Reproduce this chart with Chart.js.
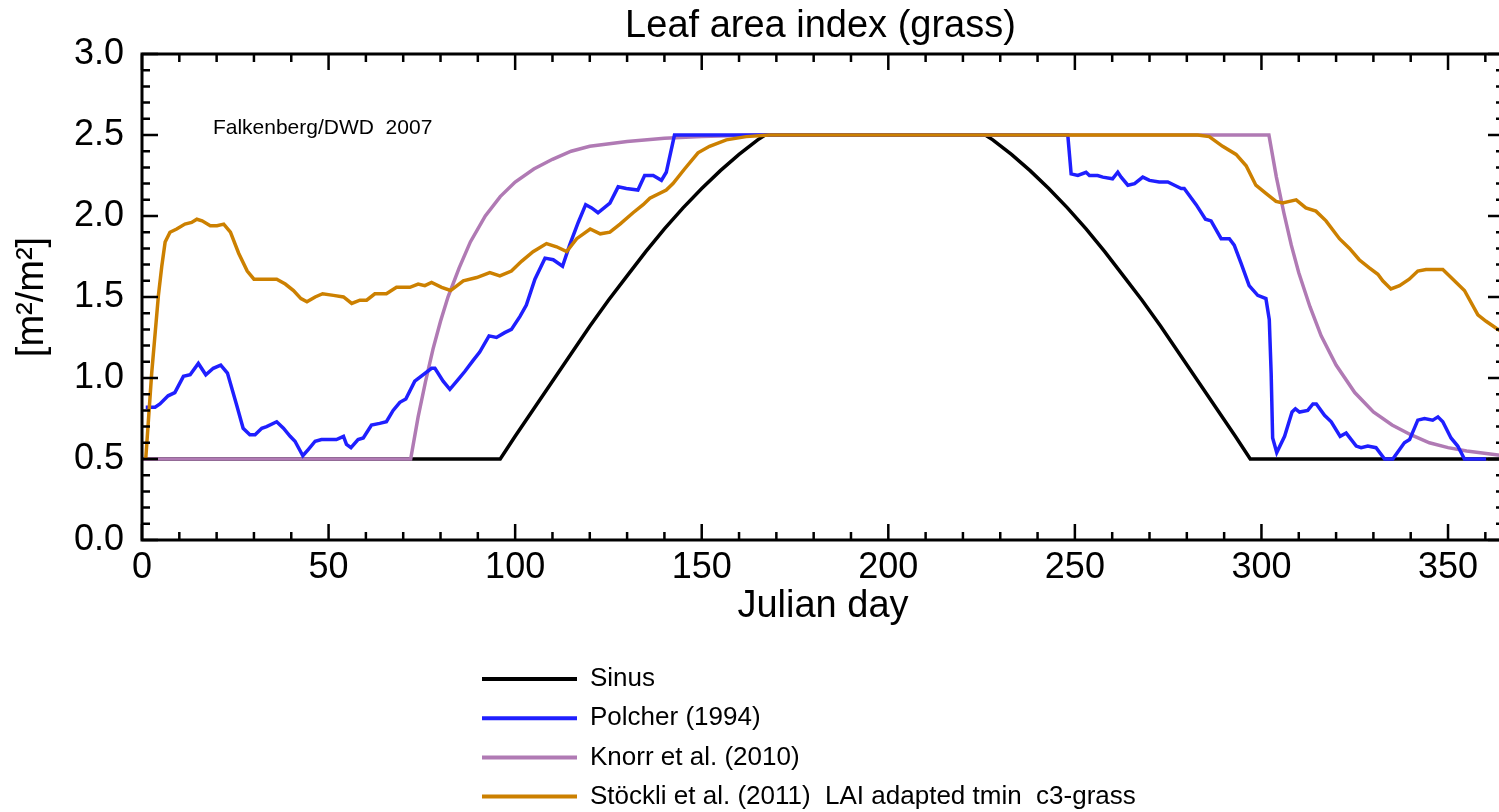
<!DOCTYPE html>
<html>
<head>
<meta charset="utf-8">
<title>Leaf area index (grass)</title>
<script src="https://cdn.jsdelivr.net/npm/chart.js@4.4.1/dist/chart.umd.min.js"></script>
<style>
  html, body { margin: 0; padding: 0; background: #fff; overflow: hidden; }
  #wrap { width: 1499px; height: 812px; overflow: hidden; }
</style>
</head>
<body>
<div id="wrap"><canvas id="lai-chart" width="1504" height="812"></canvas></div>
<script>
// Sinus
const sinusDays = [0, 96, 100, 105, 110, 115, 120, 125, 130, 135, 140, 145, 150, 155, 160, 165, 167,
  226, 228, 233, 238, 243, 248, 253, 258, 263, 268, 273, 278, 283, 288, 293, 297, 365];
const sinusLai = [0.5, 0.5, 0.64, 0.81, 0.98, 1.15, 1.32, 1.48, 1.63, 1.78, 1.92, 2.05, 2.17, 2.28, 2.38, 2.47, 2.5,
  2.5, 2.47, 2.38, 2.28, 2.17, 2.05, 1.92, 1.78, 1.63, 1.48, 1.32, 1.15, 0.98, 0.81, 0.64, 0.5, 0.5];

// Polcher (1994)
const polcherDays = [1, 3.5, 4.8, 7, 8.8, 11.1, 12.9, 15.1, 17.1, 19.1, 21.1, 22.9, 25.4, 27.1, 28.9, 30.3, 32.1, 33.4,
  36.1, 37.9, 39.7, 41, 43.1, 44.6, 46.4, 48.1, 50.4, 52.1, 54, 54.8, 56, 57.9, 59.3, 61.5, 63.7, 65.5, 67.3, 69.1,
  70.7, 73.1, 75.3, 77.6, 78.5, 80.7, 82.5, 84.7, 86.5, 88.8, 90.5, 93, 95, 97.2, 99, 101.3, 103, 105.3, 108, 110.2,
  112.7, 114.6, 116.9, 118.9, 120.5, 122.2, 125.4, 127.6, 129.8, 132.9, 134.7, 137, 139.2, 140.5, 142.7,
  248.1, 249, 250.8, 253, 253.9, 256.1, 257.5, 260.1, 261.5, 262.4, 264.2, 266, 268.2, 270, 272.6, 274.9, 276.7,
  278.5, 279.3, 282.5, 285, 286.5, 289.2, 291.4, 292.7, 294.5, 296.7, 299, 301.2, 302.1, 302.6, 303, 304.1, 306.2,
  308.2, 309.1, 310.2, 312.4, 313.8, 314.7, 316.9, 318.7, 321.1, 322.7, 325.4, 326.7, 328.5, 330.7, 333, 335.2,
  338.3, 339.7, 341.9, 343.7, 345.9, 347.3, 348.6, 350.8, 352.6, 354.4, 360.2];
const polcherLai = [0.82, 0.82, 0.84, 0.89, 0.91, 1.01, 1.02, 1.09, 1.02, 1.06, 1.08, 1.03, 0.83, 0.69, 0.65, 0.65, 0.69, 0.70,
  0.73, 0.69, 0.64, 0.61, 0.52, 0.56, 0.61, 0.62, 0.62, 0.62, 0.64, 0.59, 0.57, 0.62, 0.63, 0.71, 0.72, 0.73, 0.80, 0.85,
  0.87, 0.98, 1.02, 1.06, 1.06, 0.98, 0.93, 0.99, 1.04, 1.11, 1.16, 1.26, 1.25, 1.28, 1.30, 1.38, 1.45, 1.61, 1.74, 1.73,
  1.69, 1.82, 1.96, 2.07, 2.05, 2.02, 2.08, 2.18, 2.17, 2.16, 2.25, 2.25, 2.22, 2.27, 2.5,
  2.5, 2.26, 2.25, 2.27, 2.25, 2.25, 2.24, 2.23, 2.27, 2.24, 2.19, 2.20, 2.24, 2.22, 2.21, 2.21, 2.19,
  2.17, 2.17, 2.07, 1.98, 1.97, 1.86, 1.86, 1.82, 1.71, 1.57, 1.51, 1.49, 1.36, 1.03, 0.63, 0.54, 0.64,
  0.79, 0.81, 0.79, 0.80, 0.84, 0.84, 0.77, 0.73, 0.64, 0.66, 0.58, 0.57, 0.58, 0.57, 0.5, 0.5,
  0.60, 0.62, 0.74, 0.75, 0.74, 0.76, 0.73, 0.63, 0.58, 0.5, 0.5];

// Knorr et al. (2010)
const knorrDays = [0, 72, 74, 76, 78, 80, 82, 85, 88, 92, 96, 100, 105, 110, 115, 120, 130, 140, 150, 165,
  302, 304, 306, 308, 310, 313, 316, 320, 325, 330, 335, 340, 345, 350, 355, 365];
const knorrLai = [0.5, 0.5, 0.76, 0.98, 1.18, 1.35, 1.50, 1.68, 1.84, 2.00, 2.12, 2.21, 2.29, 2.35, 2.40, 2.43, 2.46, 2.48, 2.49, 2.5,
  2.5, 2.24, 2.02, 1.82, 1.65, 1.44, 1.26, 1.08, 0.91, 0.79, 0.71, 0.65, 0.60, 0.57, 0.55, 0.52];

// Stöckli et al. (2011)
const stoeckliDays = [1, 2.6, 4.4, 5.3, 6.2, 7.5, 9.3, 11.5, 13.3, 14.7, 16.1, 18.3, 20.1, 21.9, 23.7, 25.9, 28.2, 30,
  31.7, 34, 36.1, 38.4, 40.6, 42.6, 44.2, 46.4, 48.4, 51.3, 54, 56.2, 58.4, 60.2, 62.4, 65.5, 68.2, 71.8, 74, 75.8,
  77.6, 80.3, 82.7, 86.1, 89.7, 93.2, 95.9, 99, 101.7, 104.8, 108.4, 111.1, 113.8, 116.5, 120.1, 122.8, 125.4, 128.1,
  131.6, 134.3, 136.1, 140.5, 142.3, 145.4, 149, 152.1, 156.6, 161.9, 168.2, 175.3,
  282.9, 286, 289.6, 293.2, 295.9, 298.5, 301.2, 303.9, 305.7, 307.5, 309.3, 311.9, 314.6, 317.3, 320.9, 323.6,
  326.2, 328.9, 331.2, 332.5, 334.7, 337, 339.6, 341.9, 344.1, 346.8, 348.6, 351.3, 354.4, 358, 360.2, 363.4, 365];
const stoeckliLai = [0.5, 1.03, 1.51, 1.69, 1.84, 1.90, 1.92, 1.95, 1.96, 1.98, 1.97, 1.94, 1.94, 1.95, 1.90, 1.77, 1.66, 1.61,
  1.61, 1.61, 1.61, 1.58, 1.54, 1.49, 1.47, 1.50, 1.52, 1.51, 1.50, 1.46, 1.48, 1.48, 1.52, 1.52, 1.56, 1.56, 1.58, 1.57,
  1.59, 1.56, 1.54, 1.60, 1.62, 1.65, 1.63, 1.66, 1.72, 1.78, 1.83, 1.81, 1.78, 1.86, 1.92, 1.89, 1.90, 1.95,
  2.02, 2.07, 2.11, 2.16, 2.20, 2.29, 2.39, 2.43, 2.47, 2.49, 2.50, 2.5,
  2.5, 2.49, 2.43, 2.38, 2.31, 2.19, 2.14, 2.09, 2.08, 2.09, 2.10, 2.05, 2.03, 1.97, 1.86, 1.80,
  1.73, 1.68, 1.64, 1.60, 1.55, 1.57, 1.61, 1.66, 1.67, 1.67, 1.67, 1.61, 1.54, 1.39, 1.35, 1.30, 1.28];

const seriesLabels = ['Sinus', 'Polcher (1994)', 'Knorr et al. (2010)', 'Stöckli et al. (2011)  LAI adapted tmin  c3-grass'];
const seriesColors = ['#000000', '#1f1fff', '#b07ab4', '#cc8000'];

const xTicksMajor = [0, 50, 100, 150, 200, 250, 300, 350];
const yTicksMajor = [0, 0.5, 1.0, 1.5, 2.0, 2.5, 3.0];

const chartTitle = 'Leaf area index (grass)';
const creditText = 'Falkenberg/DWD  2007';
const creditPos = { day: 19, lai: 2.54 };

const FONT = '"Liberation Sans", Arial, Helvetica, sans-serif';
const VISIBLE_WIDTH = 1499;

// пакетиране на точките за Chart.js
function toPoints(days, values) {
    return days.map((d, i) => ({ x: d, y: values[i] }));
}

// рамка, вътрешни чертички, заглавие, надпис и легенда
const idlPlotPlugin = {
    id: 'idlPlot',
    afterDraw(chart) {
        const ctx = chart.ctx;
        const area = chart.chartArea;
        const xs = chart.scales.x;
        const ys = chart.scales.y;

        ctx.save();
        ctx.strokeStyle = '#000';
        ctx.lineWidth = 3;
        ctx.beginPath();
        ctx.rect(area.left, area.top, area.right - area.left, area.bottom - area.top);
        ctx.stroke();

        ctx.lineWidth = 2.5;
        ctx.beginPath();
        for (let d = 0; d <= xs.max; d += 10) {
            const px = xs.getPixelForValue(d);
            const len = d % 50 === 0 ? 16 : 8;
            ctx.moveTo(px, area.bottom);
            ctx.lineTo(px, area.bottom - len);
            ctx.moveTo(px, area.top);
            ctx.lineTo(px, area.top + len);
        }
        for (let k = 0; k <= 30; k++) {
            const py = ys.getPixelForValue(k / 10);
            const len = k % 5 === 0 ? 16 : 8;
            ctx.moveTo(area.left, py);
            ctx.lineTo(area.left + len, py);
            ctx.moveTo(area.right, py);
            ctx.lineTo(area.right - len, py);
        }
        ctx.stroke();

        // заглавие
        ctx.fillStyle = '#000';
        ctx.font = '38px ' + FONT;
        ctx.textAlign = 'center';
        ctx.textBaseline = 'middle';
        ctx.fillText(chartTitle, (area.left + VISIBLE_WIDTH) / 2, 27);

        // надпис в полето
        ctx.font = '21px ' + FONT;
        ctx.textAlign = 'left';
        ctx.fillText(creditText, xs.getPixelForValue(creditPos.day), ys.getPixelForValue(creditPos.lai));

        // легенда
        ctx.font = '26px ' + FONT;
        chart.data.datasets.forEach((ds, i) => {
            const y = 679 + i * 39.2;
            ctx.strokeStyle = ds.borderColor;
            ctx.lineWidth = 4;
            ctx.beginPath();
            ctx.moveTo(482, y);
            ctx.lineTo(577, y);
            ctx.stroke();
            ctx.fillStyle = '#000';
            ctx.fillText(ds.label, 590, y);
        });
        ctx.restore();
    }
};

Chart.defaults.color = '#000';
Chart.defaults.font.family = FONT;

const drawOrder = [4, 2, 3, 1];
const seriesData = [
    toPoints(sinusDays, sinusLai),
    toPoints(polcherDays, polcherLai),
    toPoints(knorrDays, knorrLai),
    toPoints(stoeckliDays, stoeckliLai)
];

new Chart(document.getElementById('lai-chart'), {
    type: 'line',
    data: {
        datasets: seriesData.map((pts, i) => ({
            label: seriesLabels[i],
            data: pts,
            borderColor: seriesColors[i],
            backgroundColor: seriesColors[i],
            borderWidth: 3.5,
            pointRadius: 0,
            tension: 0,
            fill: false,
            order: drawOrder[i]
        }))
    },
    options: {
        responsive: false,
        animation: false,
        events: [],
        layout: { padding: { top: 54, left: 0, right: 0, bottom: 172 } },
        plugins: {
            legend: { display: false },
            title: { display: false },
            tooltip: { enabled: false }
        },
        scales: {
            x: {
                type: 'linear',
                min: 0,
                max: 365,
                grid: { display: false, drawTicks: false },
                border: { display: false },
                afterFit: (scale) => { scale.height = 100; },
                afterBuildTicks: (scale) => { scale.ticks = xTicksMajor.map(v => ({ value: v })); },
                ticks: {
                    font: { size: 36 },
                    padding: 6,
                    maxRotation: 0,
                    autoSkip: false
                },
                title: {
                    display: true,
                    text: 'Julian day',
                    font: { size: 38 },
                    padding: { top: 0, bottom: 11 }
                }
            },
            y: {
                min: 0,
                max: 3,
                grid: { display: false, drawTicks: false },
                border: { display: false },
                afterFit: (scale) => { scale.width = 142; },
                afterBuildTicks: (scale) => { scale.ticks = yTicksMajor.map(v => ({ value: v })); },
                ticks: {
                    font: { size: 36 },
                    padding: 18,
                    autoSkip: false,
                    callback: (v) => Number(v).toFixed(1)
                },
                title: {
                    display: true,
                    text: '[m²/m²]',
                    font: { size: 38 },
                    padding: { top: 10, bottom: 0 }
                }
            }
        }
    },
    plugins: [idlPlotPlugin]
});
</script>
</body>
</html>
